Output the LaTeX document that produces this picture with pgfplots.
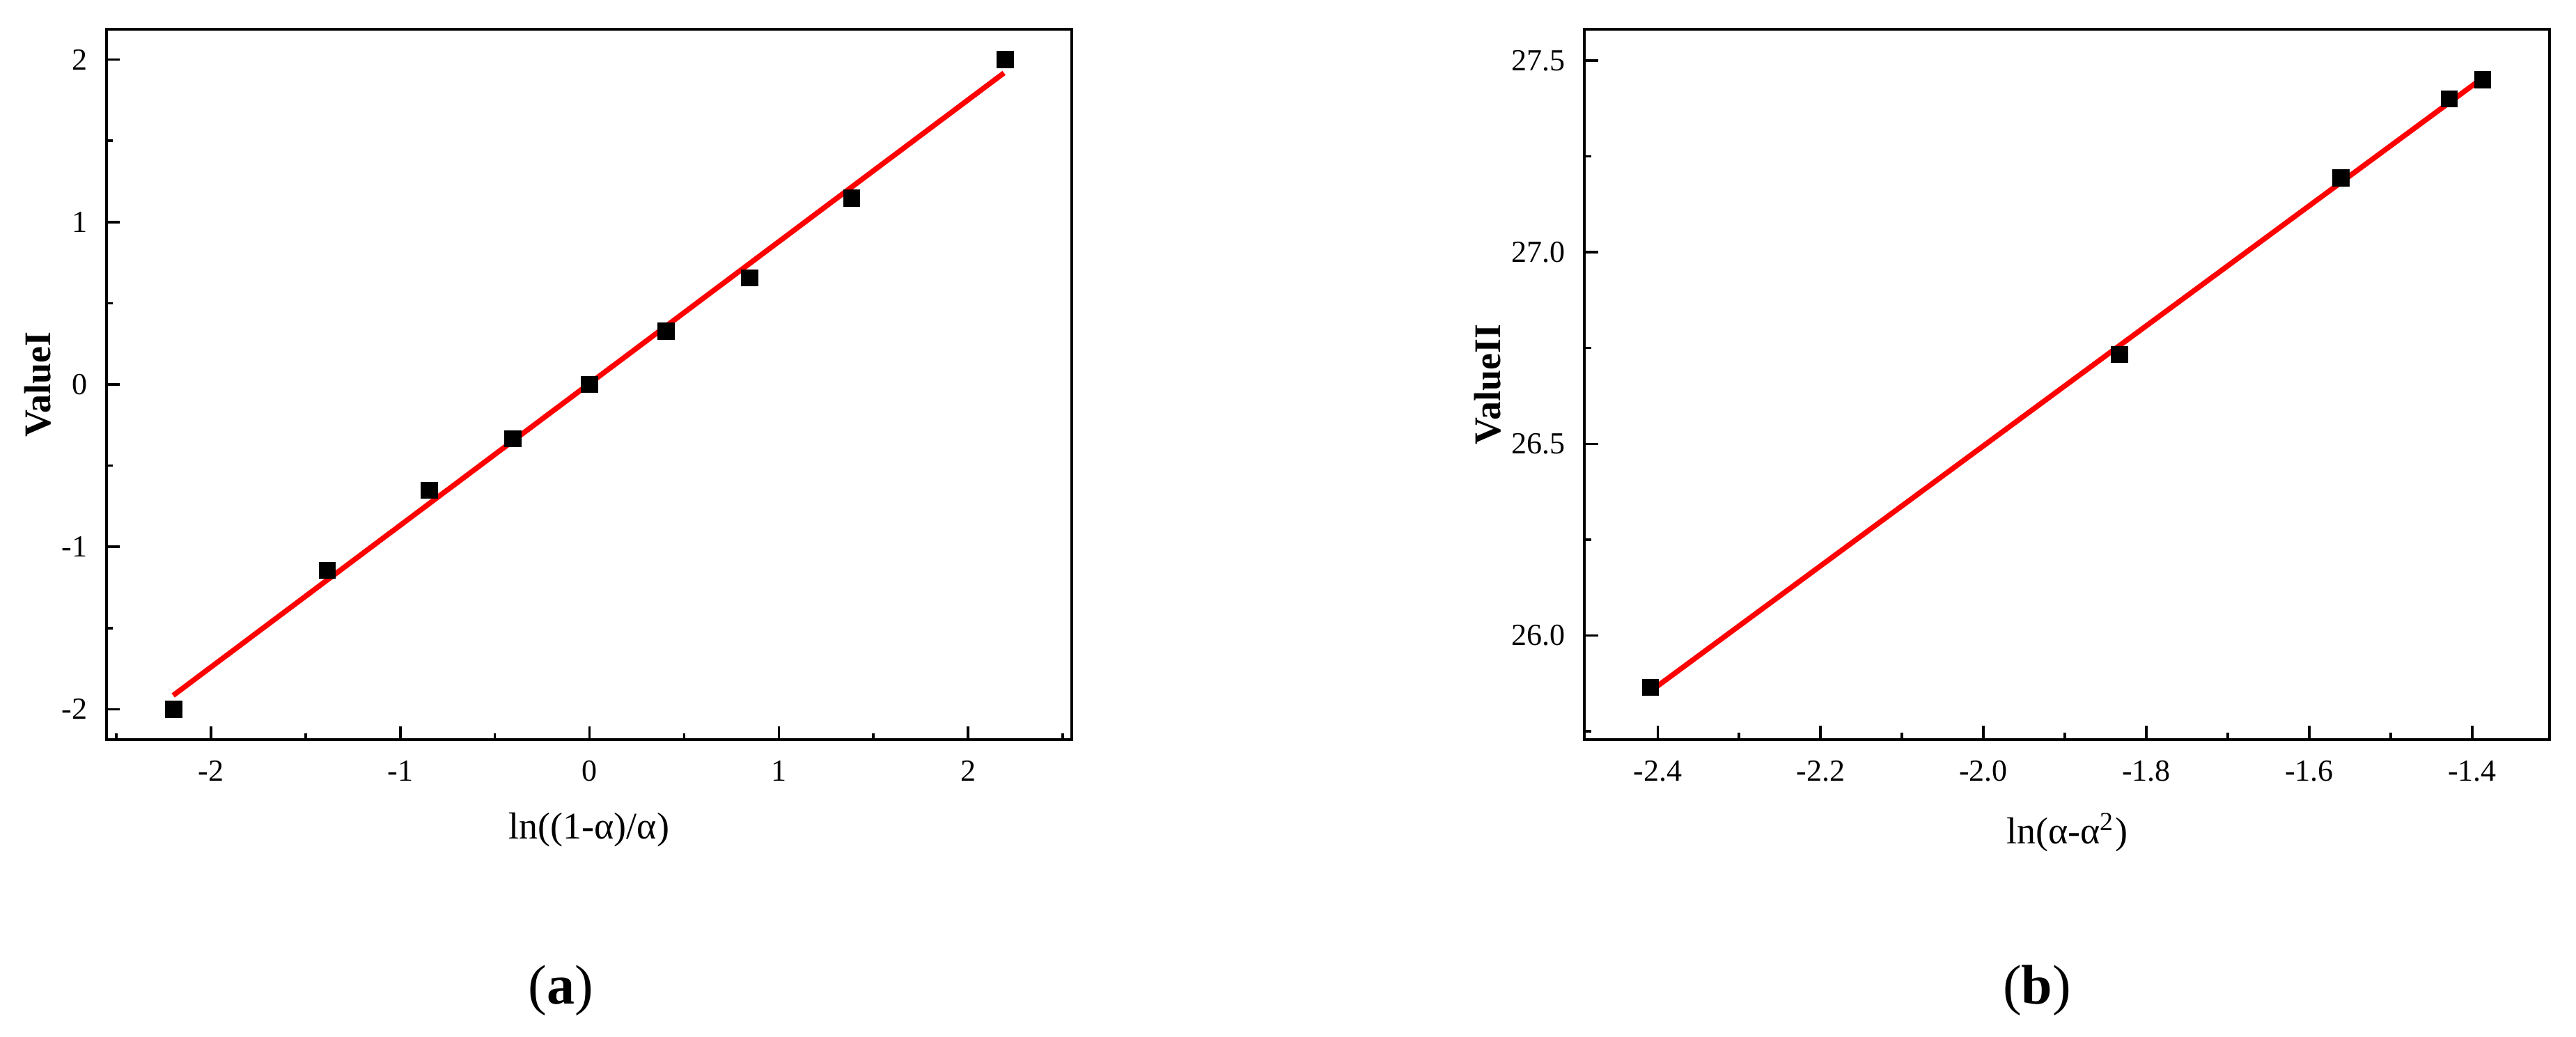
\documentclass[border=0pt]{standalone}
\usepackage{fontspec}
\setmainfont{Liberation Serif}
\usepackage{pgfplots}
\pgfplotsset{compat=1.18}
\begin{document}
\begin{tikzpicture}
\path[use as bounding box] (0,0) rectangle (739.8pt,297.6pt);
\pgfplotsset{
  common/.style={
    scale only axis, width=277.2pt, height=204pt, anchor=south west,
    axis line style={line width=0.7pt},
    tick pos=left, tick align=inside,
    major tick length=3.9pt, minor tick length=1.9pt,
    every tick/.append style={black, line width=0.7pt},
    tick label style={font=\fontsize{8.8}{10}\selectfont},
    label style={font=\fontsize{10.8}{13}\selectfont},
    /pgf/number format/assume math mode=true,
    xticklabel style={yshift=-2.5pt},
    yticklabel style={xshift=-2pt},
  }
}
\begin{axis}[common, at={(30.6pt,85.2pt)},
  xmin=-2.552, xmax=2.548, ymin=-2.187, ymax=2.187,
  xtick={-2,-1,0,1,2}, minor xtick={-2.5,-1.5,-0.5,0.5,1.5,2.5},
  ytick={-2,-1,0,1,2}, minor ytick={-1.5,-0.5,0.5,1.5},
  xlabel={ln((1-α)/α)}, ylabel={\textbf{ValueI}},
  xlabel style={at={(axis description cs:0.5,-0.140)}, anchor=base},
  ylabel style={at={(axis description cs:-0.0714,0.5)}, anchor=center},
]
\addplot[only marks, mark=square*, mark size=2.25pt, black] coordinates {
(-2.197,-2.0) (-1.386,-1.144) (-0.847,-0.652) (-0.405,-0.334) (0,0)
(0.405,0.328) (0.847,0.656) (1.386,1.148) (2.197,2.0)};
\addplot[red, line width=1.5pt] coordinates {(-2.20,-1.915) (2.19,1.918)};
\end{axis}
\begin{axis}[common, at={(455pt,85.2pt)},
  xmin=-2.49, xmax=-1.305, ymin=25.728, ymax=27.582,
  xtick={-2.4,-2.2,-2.0,-1.8,-1.6,-1.4},
  minor xtick={-2.3,-2.1,-1.9,-1.7,-1.5},
  ytick={26.0,26.5,27.0,27.5}, minor ytick={25.75,26.25,26.75,27.25},
  xticklabel={\pgfmathprintnumber[fixed,fixed zerofill,precision=1]{\tick}},
  yticklabel={\pgfmathprintnumber[fixed,fixed zerofill,precision=1]{\tick}},
  xlabel={ln(α-α\textsuperscript{2})}, ylabel={\textbf{ValueII}},
  xlabel style={at={(axis description cs:0.5,-0.147)}, anchor=base},
  ylabel style={at={(axis description cs:-0.1003,0.5)}, anchor=center},
]
\addplot[only marks, mark=square*, mark size=2.25pt, black] coordinates {
(-2.409,25.864) (-1.833,26.733) (-1.561,27.194) (-1.428,27.400) (-1.387,27.450)};
\addplot[red, line width=1.5pt] coordinates {(-2.409,25.854) (-1.387,27.455)};
\end{axis}
\node at (161pt,13.2pt) {\fontsize{16}{19}\selectfont (\textbf{a})};
\node at (585pt,13.2pt) {\fontsize{16}{19}\selectfont (\textbf{b})};
\end{tikzpicture}
\end{document}
